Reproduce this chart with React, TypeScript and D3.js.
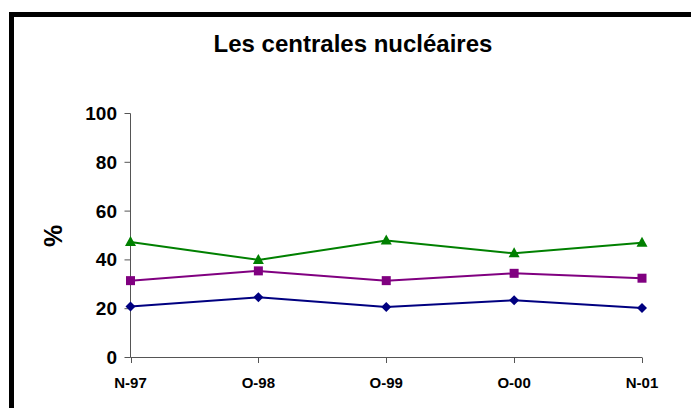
import React from "react";
import * as d3 from "d3";

const categories = ["N-97", "O-98", "O-99", "O-00", "N-01"];
const seriesGreen = [47.3, 40.0, 47.9, 42.7, 47.0];
const seriesPurple = [31.5, 35.5, 31.5, 34.5, 32.5];
const seriesNavy = [20.9, 24.7, 20.7, 23.5, 20.3];
const yTicks = [0, 20, 40, 60, 80, 100];
const title = "Les centrales nucléaires";
const yLabel = "%";

const W = 691;
const H = 408;
const FONT = "Arial, 'Liberation Sans', sans-serif";

export default function App() {
  const x = d3.scalePoint<string>().domain(categories).range([130.5, 642]);
  const y = d3.scaleLinear().domain([0, 100]).range([357.5, 113.5]);

  const line = d3
    .line<number>()
    .x((_, i) => x(categories[i]) as number)
    .y((v) => y(v));

  const series = [
    { data: seriesNavy, color: "#000080", shape: "diamond" },
    { data: seriesPurple, color: "#800080", shape: "square" },
    { data: seriesGreen, color: "#008000", shape: "triangle" },
  ];

  const marker = (shape: string, cx: number, cy: number, color: string, k: number) => {
    if (shape === "square") {
      return <rect key={k} x={cx - 4.5} y={cy - 4.5} width={9} height={9} fill={color} />;
    }
    if (shape === "diamond") {
      return (
        <path
          key={k}
          d={`M${cx},${cy - 5}L${cx + 5},${cy}L${cx},${cy + 5}L${cx - 5},${cy}Z`}
          fill={color}
        />
      );
    }
    return (
      <path
        key={k}
        d={`M${cx},${cy - 6}L${cx + 5.5},${cy + 4}L${cx - 5.5},${cy + 4}Z`}
        fill={color}
      />
    );
  };

  return (
    <svg
      width={W}
      height={H}
      style={{ position: "absolute", left: 0, top: 0, background: "#fff" }}
      fontFamily={FONT}
    >
      <rect x={0} y={0} width={W} height={H} fill="#fff" />
      {/* frame */}
      <rect x={11.5} y={14.5} width={W + 20} height={H + 20} fill="none" stroke="#000" strokeWidth={5} />
      {/* title */}
      <text x={353} y={52} textAnchor="middle" fontSize={24} fontWeight="bold">
        {title}
      </text>
      {/* y label */}
      <text
        transform={`translate(62,236) rotate(-90)`}
        textAnchor="middle"
        fontSize={25}
        fontWeight="bold"
      >
        {yLabel}
      </text>
      {/* axes */}
      <line x1={130.5} x2={130.5} y1={113.5} y2={357.5} stroke="#555" strokeWidth={1} />
      <line x1={130.5} x2={642} y1={357.5} y2={357.5} stroke="#555" strokeWidth={1} />
      {yTicks.map((t) => (
        <g key={t}>
          <line x1={124.5} x2={130.5} y1={y(t)} y2={y(t)} stroke="#555" strokeWidth={1} />
          <text x={117} y={y(t) + 6.5} textAnchor="end" fontSize={19} fontWeight="bold">
            {t}
          </text>
        </g>
      ))}
      {categories.map((c) => (
        <g key={c}>
          <line
            x1={Math.round(x(c) as number) + 0.5}
            x2={Math.round(x(c) as number) + 0.5}
            y1={357.5}
            y2={363}
            stroke="#555"
            strokeWidth={1}
          />
          <text x={x(c)} y={388} textAnchor="middle" fontSize={15} fontWeight="bold">
            {c}
          </text>
        </g>
      ))}
      {/* series */}
      {series.map((s, si) => (
        <g key={si}>
          <path d={line(s.data) as string} fill="none" stroke={s.color} strokeWidth={2} />
          {s.data.map((v, i) => marker(s.shape, x(categories[i]) as number, y(v), s.color, i))}
        </g>
      ))}
    </svg>
  );
}
